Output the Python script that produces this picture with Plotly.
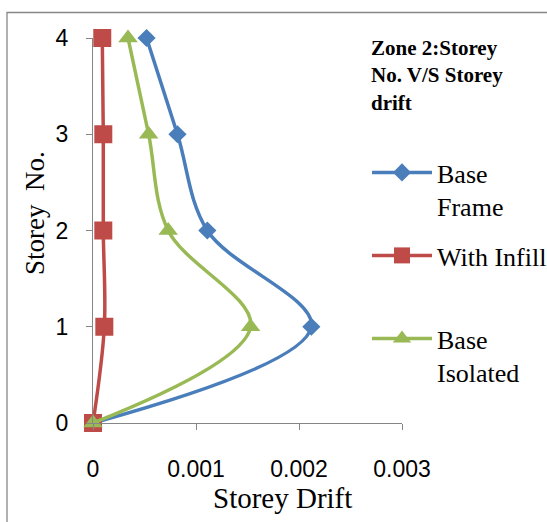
import plotly.graph_objects as go

storeys = [0, 1, 2, 3, 4]
base_frame = [0, 0.00212, 0.00111, 0.00082, 0.00052]
with_infill = [0, 0.00011, 0.0001, 0.0001, 0.00009]
base_isolated = [0, 0.00153, 0.00073, 0.00054, 0.00034]

names = ["Base<br>Frame", "With Infill", "Base<br>Isolated"]
x_ticks = [0, 0.001, 0.002, 0.003]
x_tick_text = ["0", "0.001", "0.002", "0.003"]
y_ticks = [0, 1, 2, 3, 4]

W, H = 547, 522
L, R, T, B = 93, 145, 38, 99
pw, ph = W - L - R, H - T - B

def px_x(p):
    return (p - L) / pw

def px_y(p):
    return (H - B - p) / ph

serif = "Liberation Serif, Times New Roman, serif"
sans = "Liberation Sans, Arial, sans-serif"

fig = go.Figure()
series = [
    (base_frame, "#4A7EBB", "diamond", 14, "legend"),
    (with_infill, "#BE4B48", "square", 18, "legend2"),
    (base_isolated, "#98B954", "triangle-up", 17, "legend3"),
]
for (vals, color, sym, size, lg), nm in zip(series, names):
    fig.add_trace(go.Scatter(
        x=vals, y=storeys, name=nm, mode="lines+markers",
        line=dict(color=color, width=3.5, shape="spline", smoothing=1),
        marker=dict(color=color, symbol=sym, size=size),
        cliponaxis=False, legend=lg,
    ))

leg_common = dict(font=dict(family=serif, size=26, color="#000"),
                  xanchor="left", yanchor="top", valign="top",
                  bgcolor="rgba(0,0,0,0)", itemwidth=60)
fig.update_layout(
    width=W, height=H,
    margin=dict(l=L, r=R, t=T, b=B, autoexpand=False),
    paper_bgcolor="white", plot_bgcolor="white",
    showlegend=True,
    legend=dict(x=px_x(367), y=px_y(149), **leg_common),
    legend2=dict(x=px_x(367), y=px_y(232), **leg_common),
    legend3=dict(x=px_x(367), y=px_y(315), **leg_common),
    xaxis=dict(range=[0, 0.003], tickvals=x_ticks, ticktext=x_tick_text,
               showgrid=False, zeroline=False, showline=True,
               linecolor="#868686", linewidth=1, ticks="outside",
               tickcolor="#868686", ticklen=6,
               tickfont=dict(family=sans, size=23, color="#000"),
               ticklabelstandoff=19),
    yaxis=dict(range=[0, 4], tickvals=y_ticks,
               showgrid=False, zeroline=False, showline=True,
               linecolor="#868686", linewidth=1, ticks="outside",
               tickcolor="#868686", ticklen=6,
               tickfont=dict(family=sans, size=23, color="#000"),
               ticklabelstandoff=13),
    shapes=[dict(type="rect", xref="paper", yref="paper",
                 x0=px_x(7), x1=px_x(600), y0=px_y(600), y1=px_y(12.5),
                 line=dict(color="#888888", width=1.3), fillcolor="rgba(0,0,0,0)",
                 layer="below")],
    annotations=[
        dict(text="<b>Zone 2:Storey<br>No. V/S Storey<br>drift</b>",
             xref="paper", yref="paper", x=px_x(369), y=px_y(34),
             xanchor="left", yanchor="top", align="left", showarrow=False,
             font=dict(family=serif, size=21, color="#000")),
        dict(text="Storey Drift", xref="paper", yref="paper",
             x=px_x(282), y=px_y(498), xanchor="center", yanchor="middle",
             showarrow=False, font=dict(family=serif, size=29, color="#000")),
        dict(text="Storey  No.", xref="paper", yref="paper", textangle=-90,
             x=px_x(35), y=px_y(213), xanchor="center", yanchor="middle",
             showarrow=False, font=dict(family=serif, size=27, color="#000")),
    ],
)

fig.write_html("out.html")
